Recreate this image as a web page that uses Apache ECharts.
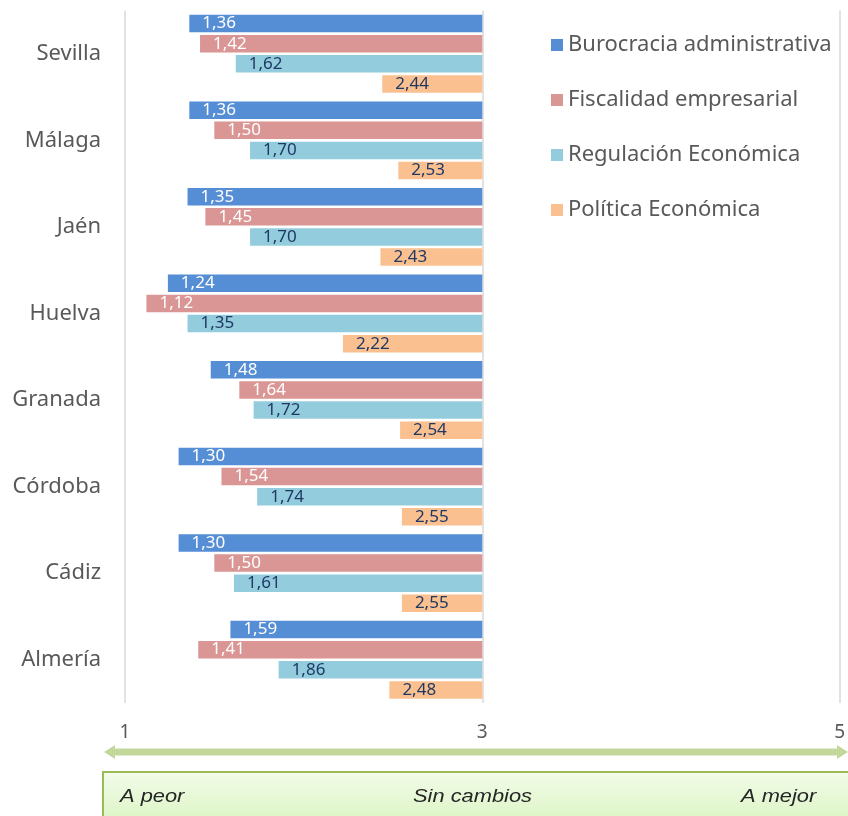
<!DOCTYPE html>
<html>
<head>
<meta charset="utf-8">
<script src="https://cdn.jsdelivr.net/npm/echarts@6/dist/echarts.min.js"></script>
<style>
  html, body { margin: 0; padding: 0; background: #fff; }
  #chart { width: 848px; height: 816px; }
</style>
</head>
<body>
<div id="chart"></div>
<script>
// provincias, de arriba a abajo
const provincias = ['Sevilla', 'Málaga', 'Jaén', 'Huelva', 'Granada', 'Córdoba', 'Cádiz', 'Almería'];

const burocracia = [1.36, 1.36, 1.35, 1.24, 1.48, 1.30, 1.30, 1.59];
const fiscalidad = [1.42, 1.50, 1.45, 1.12, 1.64, 1.54, 1.50, 1.41];
const regulacion = [1.62, 1.70, 1.70, 1.35, 1.72, 1.74, 1.61, 1.86];
const politica   = [2.44, 2.53, 2.43, 2.22, 2.54, 2.55, 2.55, 2.48];

const ejeTicks = [1, 3, 5];
const centro = 3; // "Sin cambios": las barras salen de aquí

const chart = echarts.init(document.getElementById('chart'));

const fmt = v => v.toFixed(2).replace('.', ',');

function serie(name, vals, color, labelColor) {
    return {
        name: name,
        type: 'bar',
        data: vals.map(v => +(v - centro).toFixed(2)),
        itemStyle: { color: color },
        barGap: '15%',
        barCategoryGap: '10%',
        label: {
            show: true,
            position: 'insideLeft',
            distance: 13,
            color: labelColor,
            fontSize: 17,
            fontFamily: 'Noto Sans',
            formatter: p => fmt(vals[p.dataIndex])
        },
        emphasis: { disabled: true }
    };
}

const cajaTexto = { fontSize: 19, fontStyle: 'italic', fontFamily: 'Liberation Sans', fill: '#262626', verticalAlign: 'middle' };
function textoCaja(txt, x) {
    return { type: 'text', x: x, y: 797, scaleX: 1.15, style: Object.assign({ text: txt }, cajaTexto) };
}

const option = {
    animation: false,
    backgroundColor: '#fff',
    grid: { left: 125, right: 6, top: 10.5, bottom: 113, containLabel: false },
    legend: {
        orient: 'vertical',
        left: 546,
        top: 29,
        itemGap: 33,
        itemWidth: 12,
        itemHeight: 12,
        icon: 'rect',
        textStyle: { fontSize: 22, color: '#595959', fontFamily: 'Noto Sans' },
        data: ['Burocracia administrativa', 'Fiscalidad empresarial', 'Regulación Económica', 'Política Económica']
    },
    xAxis: {
        type: 'value',
        min: ejeTicks[0] - centro,
        max: ejeTicks[ejeTicks.length - 1] - centro,
        interval: 2,
        axisLine: { show: false },
        axisTick: { show: false },
        splitLine: { show: true, lineStyle: { color: '#d9d9d9', width: 1.5 } },
        axisLabel: {
            margin: 20,
            fontSize: 19,
            color: '#595959',
            fontFamily: 'Noto Sans',
            formatter: v => String(v + centro)
        }
    },
    yAxis: {
        type: 'category',
        data: provincias,
        inverse: true,
        axisLine: { show: false, onZero: false },
        axisTick: { show: false },
        axisLabel: { margin: 24, fontSize: 22, color: '#595959', fontFamily: 'Noto Sans' }
    },
    series: [
        serie('Burocracia administrativa', burocracia, '#558ed5', '#ffffff'),
        serie('Fiscalidad empresarial', fiscalidad, '#d99694', '#ffffff'),
        serie('Regulación Económica', regulacion, '#93cddd', '#1f3864'),
        serie('Política Económica', politica, '#fac090', '#1f3864')
    ],
    graphic: [
        {
            type: 'polygon',
            shape: {
                points: [
                    [104, 752], [115, 745], [115, 748.5], [837, 748.5], [837, 745],
                    [848, 752], [837, 759], [837, 755.5], [115, 755.5], [115, 759]
                ]
            },
            style: { fill: '#c4d79b' }
        },
        {
            type: 'rect',
            shape: { x: 103, y: 772, width: 760, height: 60 },
            style: {
                fill: new echarts.graphic.LinearGradient(0, 0, 0, 1, [
                    { offset: 0, color: '#f3fcea' },
                    { offset: 1, color: '#d6f3bb' }
                ]),
                stroke: '#9bbb59',
                lineWidth: 2
            }
        },
        textoCaja('A peor', 120),
        textoCaja('Sin cambios', 413),
        textoCaja('A mejor', 741)
    ]
};

chart.setOption(option);
</script>
</body>
</html>
